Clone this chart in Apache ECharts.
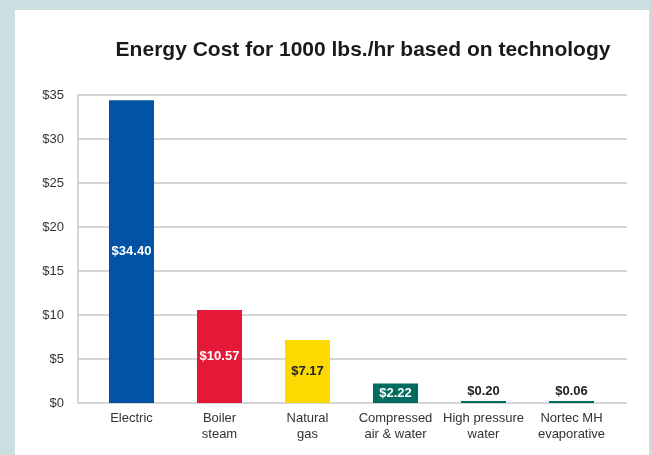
<!DOCTYPE html>
<html>
<head>
<meta charset="utf-8">
<script src="https://cdn.jsdelivr.net/npm/echarts@6/dist/echarts.min.js"></script>
<style>
html, body { margin: 0; padding: 0; background: #c9dfe0; }
#main { width: 651px; height: 455px; }
</style>
</head>
<body>
<div id="main"></div>
<script>
// data
var categories = ['Electric', 'Boiler\nsteam', 'Natural\ngas', 'Compressed\nair & water', 'High pressure\nwater', 'Nortec MH\nevaporative'];
var costs = [34.40, 10.57, 7.17, 2.22, 0.20, 0.06];
var barColors = ['#0353a4', '#e31937', '#fcd900', '#006b5f', '#006b5f', '#006b5f'];
var yTicks = { min: 0, max: 35, interval: 5 };

var font = '"Liberation Sans", Arial, sans-serif';

var chart = echarts.init(document.getElementById('main'));

// small bars get their label on top, big ones inside
var barData = costs.map(function (v, i) {
    var item = { value: v, itemStyle: { color: barColors[i] } };
    if (v < 1) {
        item.label = { position: 'top', color: '#222', distance: 3 };
    } else if (i === 2) {
        item.label = { color: '#222' };
    }
    return item;
});

var option = {
    backgroundColor: '#c9dfe0',
    animation: false,
    graphic: [{
        type: 'rect',
        z: -10,
        shape: { x: 15, y: 10, width: 634, height: 445 },
        style: { fill: '#ffffff' }
    }],
    title: {
        text: 'Energy Cost for 1000 lbs./hr based on technology',
        left: 358,
        textAlign: 'center',
        top: 35,
        textStyle: { fontFamily: font, fontWeight: 'bold', fontSize: 21, color: '#1a1a1a' }
    },
    grid: [
        // axis grid (gridlines run wider than the bars)
        { left: 78, top: 95, width: 549, height: 308 },
        // bar grid
        { left: 87.5, top: 95, width: 528, height: 308 }
    ],
    xAxis: [
        { type: 'value', gridIndex: 0, show: false },
        {
            type: 'category', gridIndex: 1, data: categories,
            axisLine: { show: false }, axisTick: { show: false },
            axisLabel: { interval: 0, margin: 7, color: '#333', fontFamily: font, fontSize: 13, lineHeight: 16 }
        }
    ],
    yAxis: [
        {
            type: 'value', gridIndex: 0, min: yTicks.min, max: yTicks.max, interval: yTicks.interval,
            axisLine: { show: true, lineStyle: { color: '#c8c8c8', width: 1.5 } },
            axisTick: { show: false },
            splitLine: { lineStyle: { color: '#c8c8c8', width: 1.5 } },
            axisLabel: { margin: 14, color: '#333', fontFamily: font, fontSize: 13, formatter: '${value}' }
        },
        {
            type: 'value', gridIndex: 1, min: yTicks.min, max: yTicks.max, interval: yTicks.interval,
            show: false, splitLine: { show: false }
        }
    ],
    series: [{
        type: 'bar',
        xAxisIndex: 1,
        yAxisIndex: 1,
        barWidth: 45,
        barMinHeight: 2,
        data: barData,
        label: {
            show: true,
            position: 'inside',
            color: '#fff',
            fontFamily: font,
            fontWeight: 'bold',
            fontSize: 13,
            formatter: function (p) { return '$' + p.value.toFixed(2); }
        }
    }]
};

chart.setOption(option);
</script>
</body>
</html>
